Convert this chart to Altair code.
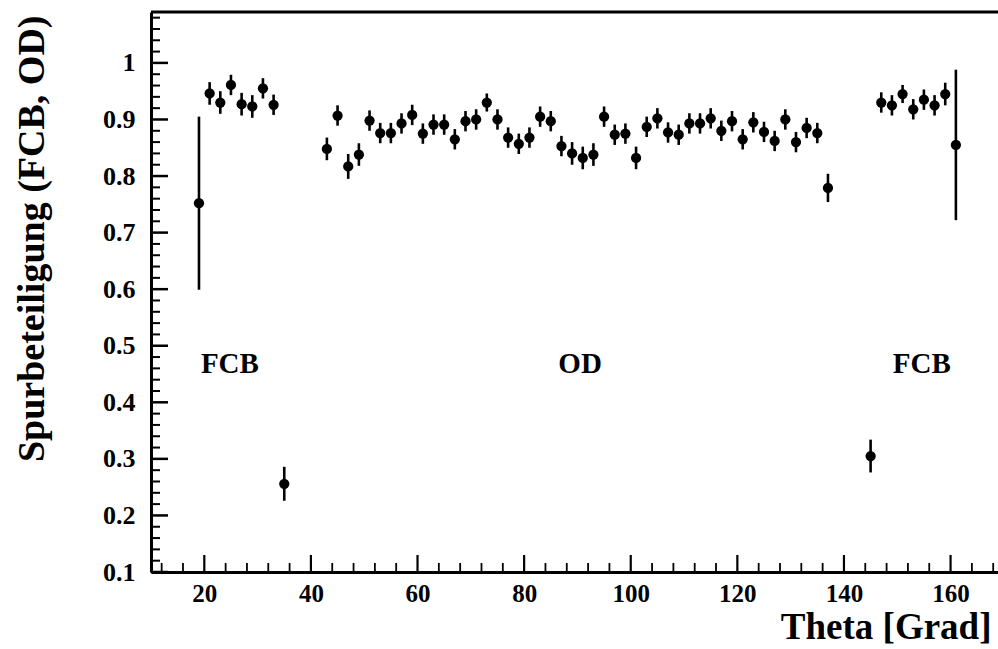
import altair as alt
import pandas as pd

# ---- data ----
fcb_left_theta = [19, 21, 23, 25, 27, 29, 31, 33, 35]
fcb_left_eff = [0.752, 0.946, 0.930, 0.961, 0.927, 0.923, 0.955, 0.926, 0.256]
fcb_left_err = [0.153, 0.020, 0.020, 0.018, 0.020, 0.020, 0.018, 0.018, 0.030]

od_theta = [43, 45, 47, 49, 51, 53, 55, 57, 59, 61, 63, 65,
            67, 69, 71, 73, 75, 77, 79, 81, 83, 85,
            87, 89, 91, 93, 95, 97, 99, 101, 103, 105,
            107, 109, 111, 113, 115, 117, 119, 121, 123, 125,
            127, 129, 131, 133, 135, 137]
od_eff = [0.848, 0.907, 0.817, 0.838, 0.898, 0.876, 0.876, 0.893, 0.908, 0.875, 0.891, 0.891,
          0.865, 0.897, 0.900, 0.930, 0.900, 0.868, 0.857, 0.868, 0.905, 0.897,
          0.853, 0.840, 0.832, 0.838, 0.905, 0.873, 0.875, 0.832, 0.887, 0.902,
          0.877, 0.873, 0.893, 0.893, 0.902, 0.880, 0.897, 0.865, 0.895, 0.878,
          0.862, 0.900, 0.860, 0.885, 0.876, 0.779]
od_err = [0.020, 0.018, 0.022, 0.020, 0.018, 0.018, 0.018, 0.018, 0.018, 0.018, 0.018, 0.018,
          0.018, 0.018, 0.018, 0.016, 0.018, 0.018, 0.018, 0.018, 0.018, 0.018,
          0.018, 0.020, 0.020, 0.020, 0.018, 0.018, 0.018, 0.020, 0.018, 0.018,
          0.018, 0.018, 0.018, 0.018, 0.018, 0.018, 0.018, 0.018, 0.018, 0.018,
          0.018, 0.018, 0.018, 0.018, 0.018, 0.025]

fcb_right_theta = [145, 147, 149, 151, 153, 155, 157, 159, 161]
fcb_right_eff = [0.305, 0.930, 0.925, 0.945, 0.918, 0.935, 0.925, 0.945, 0.855]
fcb_right_err = [0.029, 0.018, 0.018, 0.016, 0.018, 0.018, 0.018, 0.020, 0.133]

labels_text = ["FCB", "OD", "FCB"]
labels_x = [24.8, 90.5, 154.6]
labels_y = [0.468, 0.468, 0.468]

x_major = [20, 40, 60, 80, 100, 120, 140, 160]
x_minor = [v for v in range(12, 169, 4) if v % 20 != 0]
y_major = [0.1, 0.2, 0.3, 0.4, 0.5, 0.6, 0.7, 0.8, 0.9, 1.0]
y_minor = [round(0.1 + 0.02 * i, 2) for i in range(1, 50) if i % 5 != 0]

# ---- tables ----
theta = fcb_left_theta + od_theta + fcb_right_theta
eff = fcb_left_eff + od_eff + fcb_right_eff
err = fcb_left_err + od_err + fcb_right_err
df = pd.DataFrame({"theta": theta, "eff": eff, "err": err})
df["lo"] = df["eff"] - df["err"]
df["hi"] = df["eff"] + df["err"]

W, H = 847, 560
FONT = "Liberation Serif"

x_scale = alt.Scale(domain=[10, 168.9], nice=False, zero=False)
y_scale = alt.Scale(domain=[0.1, 1.09], nice=False, zero=False)

x_axis = alt.Axis(values=x_major, format="d", title="Theta [Grad]",
                  titleAnchor="end", titleAlign="right", titleBaseline="alphabetic",
                  titleX=W - 7, titleY=66, titleFontSize=37,
                  labelPadding=9, labelFontSize=25)
y_axis = alt.Axis(values=y_major, format=".1~f", title="Spurbeteiligung (FCB, OD)",
                  titleAngle=270, titleAlign="right", titleBaseline="middle",
                  titleX=-119, titleY=3, titleFontSize=38,
                  labelPadding=16, labelFontSize=26)


def X(field):
    return alt.X(field, scale=x_scale, axis=x_axis, title="Theta [Grad]")


def Y(field):
    return alt.Y(field, scale=y_scale, axis=y_axis, title="Spurbeteiligung (FCB, OD)")


base = alt.Chart(df)

errbars = base.mark_rule(color="black", strokeWidth=2.6).encode(
    x=X("theta:Q"), y=Y("lo:Q"), y2="hi:Q")

points = base.mark_circle(size=105, color="black", opacity=1).encode(
    x=X("theta:Q"), y=Y("eff:Q"))

xmaj = alt.Chart(pd.DataFrame({"v": x_major})).mark_rule(color="black", strokeWidth=2.2).encode(
    x=X("v:Q"), y=alt.value(H), y2=alt.value(H - 17))
xmin = alt.Chart(pd.DataFrame({"v": x_minor})).mark_rule(color="black", strokeWidth=1.8).encode(
    x=X("v:Q"), y=alt.value(H), y2=alt.value(H - 9))
ymaj = alt.Chart(pd.DataFrame({"v": y_major})).mark_rule(color="black", strokeWidth=2.5).encode(
    y=Y("v:Q"), x=alt.value(0), x2=alt.value(17))
ymin = alt.Chart(pd.DataFrame({"v": y_minor})).mark_rule(color="black", strokeWidth=2).encode(
    y=Y("v:Q"), x=alt.value(0), x2=alt.value(9))

top_border = alt.Chart(pd.DataFrame({"a": [0]})).mark_rule(color="black", strokeWidth=3).encode(
    x=alt.value(0), x2=alt.value(W), y=alt.value(0))

texts = alt.Chart(pd.DataFrame({"x": labels_x, "y": labels_y, "t": labels_text})).mark_text(
    font=FONT, fontWeight="bold", fontSize=29, color="black", align="center", baseline="middle"
).encode(
    x=X("x:Q"), y=Y("y:Q"), text="t:N")

chart = alt.layer(errbars, points, xmaj, xmin, ymaj, ymin, top_border, texts).properties(
    width=W, height=H,
    padding={"left": 151, "top": 12, "right": 0, "bottom": 77},
    autosize=alt.AutoSizeParams(type="none"),
    background="white",
).configure_view(stroke=None).configure_axis(
    grid=False, ticks=False, domainColor="black", domainWidth=3,
    labelFont=FONT, labelFontWeight="bold", labelColor="black",
    titleFont=FONT, titleFontWeight="bold", titleColor="black",
)

chart.save("out.html", embed_options={"renderer": "svg", "actions": False})
